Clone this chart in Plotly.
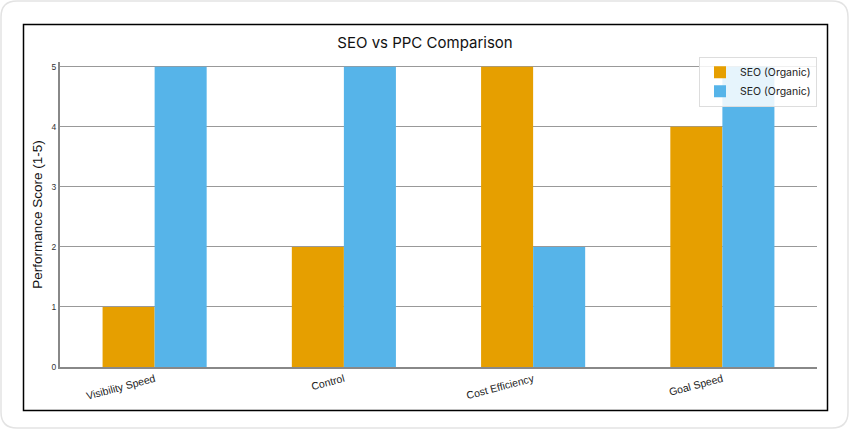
import plotly.graph_objects as go

categories = ["Visibility Speed", "Control", "Cost Efficiency", "Goal Speed"]
seo_scores = [1, 2, 5, 4]
ppc_scores = [5, 5, 2, 5]
legend_names = ["SEO (Organic)", "SEO (Organic)"]

W, H = 850, 430
L, R, T, B = 60, 33, 62, 63
pw, ph = W - L - R, H - T - B


def px(x):
    return (x - L) / pw


def py(y):
    return (H - B - y) / ph


def rounded_rect(x0, y0, x1, y1, r):
    # rounded rectangle path in paper coords, from pixel corners
    pts = [
        f"M {px(x0 + r)} {py(y0)}",
        f"L {px(x1 - r)} {py(y0)}",
        f"Q {px(x1)} {py(y0)} {px(x1)} {py(y0 + r)}",
        f"L {px(x1)} {py(y1 - r)}",
        f"Q {px(x1)} {py(y1)} {px(x1 - r)} {py(y1)}",
        f"L {px(x0 + r)} {py(y1)}",
        f"Q {px(x0)} {py(y1)} {px(x0)} {py(y1 - r)}",
        f"L {px(x0)} {py(y0 + r)}",
        f"Q {px(x0)} {py(y0)} {px(x0 + r)} {py(y0)}",
        "Z",
    ]
    return " ".join(pts)


fig = go.Figure()
fig.add_trace(go.Bar(x=categories, y=seo_scores, name=legend_names[0],
                     marker=dict(color="#E69F00", line=dict(width=0))))
fig.add_trace(go.Bar(x=categories, y=ppc_scores, name=legend_names[1],
                     marker=dict(color="#56B4E9", line=dict(width=0))))

fig.update_layout(
    width=W, height=H,
    margin=dict(l=L, r=R, t=T, b=B),
    paper_bgcolor="white", plot_bgcolor="white",
    font=dict(family="Liberation Sans, Arial, sans-serif", color="#222"),
    barmode="group", bargap=0.45, bargroupgap=0,
    title=dict(text="SEO vs PPC Comparison", x=0.5, xref="container",
               y=1 - 43 / H, yref="container", yanchor="middle",
               font=dict(family="Inter, sans-serif", size=15, color="#111")),
    legend=dict(x=1, xanchor="right", y=1.017, yanchor="top",
                bgcolor="rgba(255,255,255,0.85)", bordercolor="#dddddd",
                borderwidth=1, font=dict(family="Inter, sans-serif", size=10.5,
                                         color="#222"),
                tracegroupgap=0, itemwidth=30),
    xaxis=dict(tickangle=-15, tickfont=dict(size=10.5, color="#222"),
               showline=True, linecolor="#888888", linewidth=2,
               showgrid=False, ticks=""),
    yaxis=dict(range=[0, 5.08], tickvals=[0, 1, 2, 3, 4, 5],
               tickfont=dict(size=8.5, color="#333"),
               showline=True, linecolor="#888888", linewidth=2,
               showgrid=True, gridcolor="#999999", gridwidth=1,
               zeroline=False, ticks="",
               title=dict(text="Performance Score (1-5)", standoff=6,
                          font=dict(size=13.5, color="#111"))),
    shapes=[
        dict(type="path", xref="paper", yref="paper",
             path=rounded_rect(1, 1, 848, 428, 16),
             line=dict(color="#e3e3e3", width=1.5), layer="below"),
        dict(type="rect", xref="paper", yref="paper",
             x0=px(23.5), x1=px(827.5), y0=py(24.5), y1=py(410.5),
             line=dict(color="black", width=1.5), layer="below"),
    ],
)

# drop the page's default body margin so the figure sits at the top-left
fig.write_html("out.html", config={"displayModeBar": False},
               post_script="document.body.style.margin='0';")
